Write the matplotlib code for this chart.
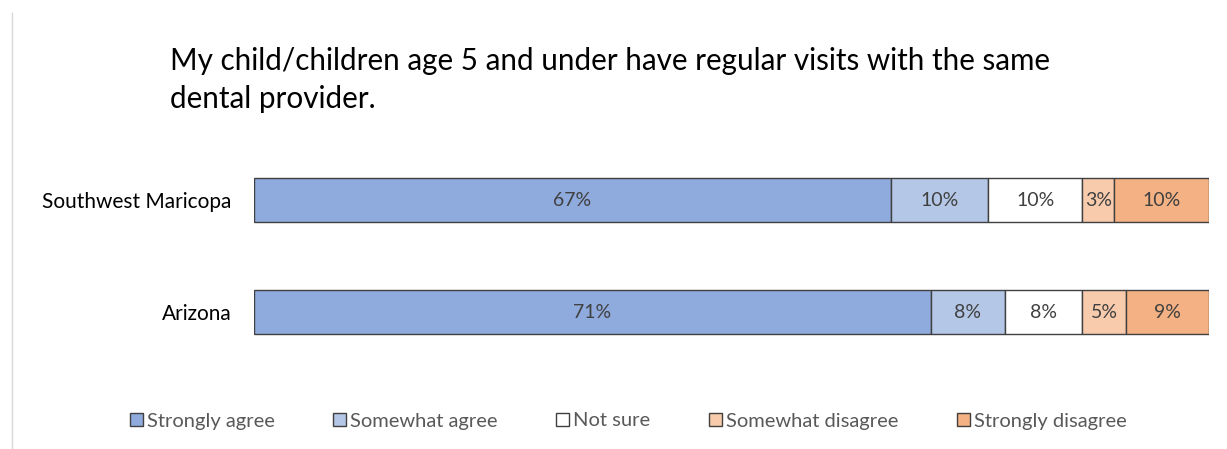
import matplotlib.pyplot as plt
import numpy as np

regioes = ['Southwest Maricopa', 'Arizona']
respostas = ['Strongly agree', 'Somewhat agree', 'Not sure', 'Somewhat disagree', 'Strongly disagree']
valores = {
    'Strongly agree': [66.7, 70.9],
    'Somewhat agree': [10.2, 7.7],
    'Not sure': [9.8, 8.1],
    'Somewhat disagree': [3.4, 4.6],
    'Strongly disagree': [9.9, 8.7],
}
cores = ['#8FAADC', '#B4C7E7', '#FFFFFF', '#F8CBAD', '#F4B183']
titulo = 'My child/children age 5 and under have regular visits with the same\ndental provider.'

plt.rcParams['font.family'] = ['Lato', 'DejaVu Sans']

fig = plt.figure(figsize=(12.27, 4.49), dpi=100)
ax = fig.add_axes([254 / 1227, 1 - 368 / 449, 955 / 1227, 224 / 449])

y = np.arange(len(regioes))
inicio = np.zeros(len(regioes))
for resp, cor in zip(respostas, cores):
    v = np.array(valores[resp])
    ax.barh(y, v, left=inicio, height=0.39, color=cor, edgecolor='#404040', linewidth=1, label=resp)
    for i in range(len(regioes)):
        ax.text(inicio[i] + v[i] / 2, y[i], f'{v[i]:.0f}%', ha='center', va='center',
                fontsize=14, color='#404040')
    inicio += v

ax.set_xlim(0, 100)
ax.set_ylim(1.5, -0.5)
ax.set_yticks(y)
ax.set_yticklabels(regioes, fontsize=15)
ax.tick_params(axis='y', length=0, pad=16)
ax.set_xticks([])
for s in ax.spines.values():
    s.set_visible(False)

fig.text(170 / 1227, 1 - 47 / 449, titulo, fontsize=21.3, va='top', ha='left', color='#000000', linespacing=1.42)

fig.legend(loc='center', bbox_to_anchor=(628 / 1227, 1 - 421 / 449), ncol=5, frameon=False,
           fontsize=14.5, handlelength=0.65, handleheight=0.65, handletextpad=0.2, columnspacing=2.9,
           labelcolor='#595959')

fig.add_artist(plt.Line2D([12 / 1227, 12 / 1227], [0, 1 - 13 / 449], color='#D9D9D9', linewidth=1))

fig.savefig('out.png', dpi=100)
